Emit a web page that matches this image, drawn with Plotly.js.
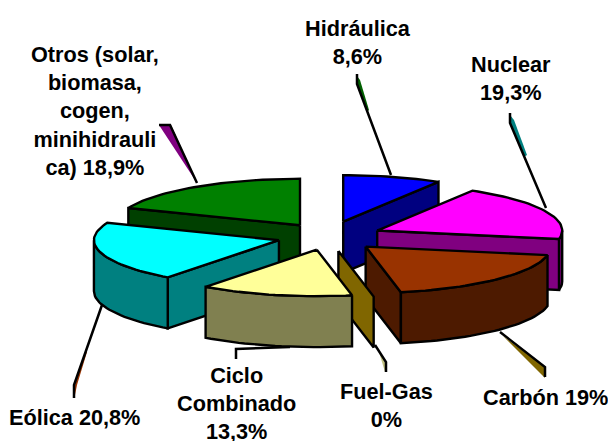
<!DOCTYPE html>
<html>
<head>
<meta charset="utf-8">
<script src="https://cdn.plot.ly/plotly-3.0.1.min.js"></script>
<style>html,body{margin:0;padding:0;background:#fff}#c{width:608px;height:441px}</style>
</head>
<body>
<div id="c"></div>
<script>
// Data, clockwise from 12 o'clock
const categories = ['Hidráulica','Nuclear','Carbón','Fuel-Gas','Ciclo Combinado','Eólica','Otros (solar, biomasa, cogen, minihidraulica)'];
const values = [8.6,19.3,19,0,13.3,20.8,18.9];
const valueText = ['8,6%','19,3%','19%','0%','13,3%','20,8%','18,9%'];
const labelLines = [
  'Hidráulica<br>8,6%','Nuclear<br>19,3%','Carbón 19%','Fuel-Gas<br>0%',
  'Ciclo<br>Combinado<br>13,3%','Eólica 20,8%','Otros (solar,<br>biomasa,<br>cogen,<br>minihidrauli<br>ca) 18,9%'
];

// Styling and layout (separate from the data)
const topColors  = ['#0000FF','#FF00FF','#993300','#806600','#FFFF99','#00FFFF','#008000'];
const sideColors = ['#000080','#800080','#4D1A00','#806600','#808050','#008080','#004000'];
const pull       = [0.303,0.287,0.282,0.29,0.266,0.271,0.266];   // explode, in units of 188px
const drawOrder  = [6,0,1,2,5,3,4];
const labelX = [358,511,545,386,236,74,95];
const labelY = [42,78,397,405,403.5,417,111];
const CX = 328, CY = 236.5, RX = 185, RY = 46.5, DEPTH = 51, PULLX = 188, PULLK = 0.27;

const rad = d => d*Math.PI/180;
const total = values.reduce((a,b)=>a+b,0);
let cum = 0;
const slices = values.map((v,i)=>{
  const a0 = cum/total*360; cum += v; const a1 = cum/total*360;
  const mid = (a0+a1)/2, d = pull[i]*PULLX;
  return {i,a0,a1,ax:CX+d*Math.sin(rad(mid)),ay:CY-d*Math.cos(rad(mid))*PULLK};
});
const arcPts = (s,a,b)=>{
  const pts=[]; const n=Math.max(1,Math.ceil((b-a)/2));
  for(let k=0;k<=n;k++){const t=a+(b-a)*k/n;pts.push([s.ax+RX*Math.sin(rad(t)),s.ay-RY*Math.cos(rad(t))]);}
  return pts;
};
const poly = (pts,color,name)=>({
  type:'scatter',mode:'lines',x:pts.map(p=>p[0]).concat(pts[0][0]),y:pts.map(p=>p[1]).concat(pts[0][1]),
  fill:'toself',fillcolor:color,line:{color:'#000',width:2.4,shape:'linear'},
  name:name,hoverinfo:'name',showlegend:false
});
const traces=[];
drawOrder.forEach(idx=>{
  const s=slices[idx], nm=categories[idx]+' '+valueText[idx], side=sideColors[idx];
  const radial=a=>{
    const p=[s.ax+RX*Math.sin(rad(a)),s.ay-RY*Math.cos(rad(a))];
    return [[s.ax,s.ay],p,[p[0],p[1]+DEPTH],[s.ax,s.ay+DEPTH]];
  };
  if(Math.sin(rad(s.a0))<-1e-6) traces.push(poly(radial(s.a0),side,nm));
  if(Math.sin(rad(s.a1))>1e-6) traces.push(poly(radial(s.a1),side,nm));
  const w0=Math.max(s.a0,90), w1=Math.min(s.a1,270);
  if(w1>w0){
    const a=arcPts(s,w0,w1);
    const b=a.slice().reverse().map(p=>[p[0],p[1]+DEPTH]);
    traces.push(poly(a.concat(b),side,nm));
  }
  if(s.a1>s.a0){
    traces.push(poly([[s.ax,s.ay]].concat(arcPts(s,s.a0,s.a1)),topColors[idx],nm));
  }
});

// Leader lines and the thin slivers beside them
const path = (pts,close)=>'M'+pts.map(p=>p.join(' ')).join('L')+(close?'Z':'');
const leader = pts=>({type:'path',xref:'x',yref:'y',path:path(pts),line:{color:'#000',width:2.5},layer:'below'});
const sliver = (pts,c)=>({type:'path',xref:'x',yref:'y',path:path(pts,true),fillcolor:c,line:{width:0},layer:'below'});
const shapes=[
  sliver([[159,125],[171,125],[197,183]],'#800080'),
  leader([[159,125],[170,125],[197,183]]),
  sliver([[357,76],[360,80],[369,110],[367,112],[357,84]],'#006000'),
  leader([[357,74],[357,84],[391,175]]),
  sliver([[510,115],[514,120],[527,155],[524,157],[510,123]],'#008080'),
  leader([[510,113],[510,123],[546,208]]),
  sliver([[75,395],[75,385],[85,352],[87,352],[77,385]],'#993300'),
  leader([[102,305],[74,385],[74,398]]),
  sliver([[379,352],[385,372],[385,362]],'#C0C080'),
  leader([[375,345],[386,362],[386,372]]),
  sliver([[503,336],[545,378],[545,367]],'#806600'),
  leader([[500,332],[545,367],[545,377]]),
  leader([[236,359],[236,349],[290,347]])
];

const annotations=labelLines.map((t,i)=>({
  x:labelX[i],y:labelY[i],xref:'x',yref:'y',text:t,showarrow:false,
  xanchor:'center',yanchor:'middle',align:'center',
  font:{family:'"Liberation Sans", Arial, sans-serif',size:21.7,color:'#000',weight:700}
}));

Plotly.newPlot('c',traces,{
  width:608,height:441,margin:{l:0,r:0,t:0,b:0},
  paper_bgcolor:'#fff',plot_bgcolor:'#fff',showlegend:false,
  xaxis:{range:[0,608],visible:false,fixedrange:true},
  yaxis:{range:[441,0],visible:false,fixedrange:true},
  shapes:shapes,annotations:annotations
},{displayModeBar:false,staticPlot:true});
</script>
</body>
</html>
